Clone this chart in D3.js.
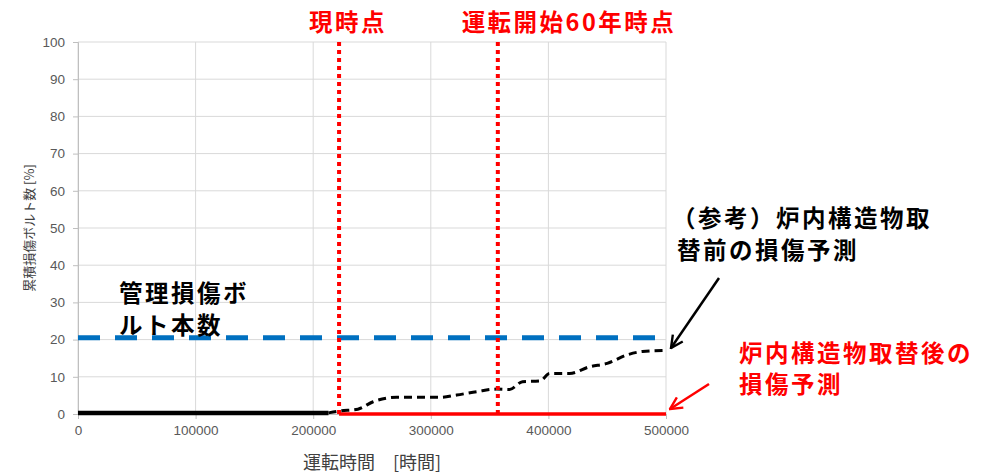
<!DOCTYPE html>
<html><head><meta charset="utf-8">
<script src="https://cdn.jsdelivr.net/npm/d3@7"></script>
<style>body{margin:0;background:#fff;} svg{display:block;}</style>
</head><body>
<svg id="c" width="987" height="475"></svg>
<script>
const xTicks = [0,100000,200000,300000,400000,500000];
const yTicks = [0,10,20,30,40,50,60,70,80,90,100];
// measured (past) damage: solid black
const pastX = [0, 213000];
const pastY = [0.3, 0.3];
// reference prediction without replacement: dashed black
const refX = [213000,222800,238000,251000,271000,308000,322000,339000,356000,367000,378000,393000,401000,418000,435000,450000,467000,480000,500000];
const refY = [0.3,0.8,1.3,3.3,4.5,4.5,5.1,6.0,6.7,6.6,8.7,8.9,10.9,10.9,12.7,13.6,15.9,16.8,17.1];
// prediction after replacement: red solid
const afterX = [222000, 500000];
const afterY = [0, 0];
// management limit
const limitValue = 20.5;
// event times
const nowTime = 222000;
const sixtyTime = 357000;

const svg = d3.select("#c");
const x = d3.scaleLinear().domain([0,500000]).range([78,666]);
const y = d3.scaleLinear().domain([0,100]).range([414,42]);
const jp = "'Noto Sans CJK JP', sans-serif";

// grid
svg.append("g").selectAll("line").data(yTicks).join("line")
  .attr("x1",x(0)).attr("x2",x(500000)).attr("y1",d=>y(d)).attr("y2",d=>y(d))
  .attr("stroke","#d9d9d9").attr("stroke-width",1);
svg.append("g").selectAll("line").data(xTicks).join("line")
  .attr("y1",y(0)).attr("y2",y(100)).attr("x1",d=>x(d)).attr("x2",d=>x(d))
  .attr("stroke","#d9d9d9").attr("stroke-width",1);

// axes
const yAxis = svg.append("g").attr("transform",`translate(${x(0)},0)`)
  .call(d3.axisLeft(y).tickValues(yTicks).tickSize(5).tickPadding(8));
const xAxis = svg.append("g").attr("transform",`translate(0,${y(0)})`)
  .call(d3.axisBottom(x).tickValues(xTicks).tickSize(5).tickPadding(6).tickFormat(d3.format("d")));
[yAxis,xAxis].forEach(a=>{
  a.select(".domain").attr("stroke","#bfbfbf");
  a.selectAll(".tick line").attr("stroke","#bfbfbf");
  a.selectAll(".tick text").attr("fill","#595959").attr("font-size",13.5)
   .attr("font-family","'Liberation Sans', Arial, sans-serif");
});

const line = d3.line().x(d=>x(d[0])).y(d=>y(d[1]));

// blue limit
svg.append("path").datum([[0,limitValue],[500000,limitValue]]).attr("d",line)
  .attr("stroke","#0070c0").attr("stroke-width",5).attr("fill","none")
  .attr("stroke-dasharray","22,15");

// red after line
svg.append("path").datum(d3.zip(afterX,afterY)).attr("d",line)
  .attr("stroke","#ff0000").attr("stroke-width",3.5).attr("fill","none");

// black past
svg.append("path").datum(d3.zip(pastX,pastY)).attr("d",line)
  .attr("stroke","#000").attr("stroke-width",4.5).attr("fill","none");

// black dashed ref
svg.append("path").datum(d3.zip(refX,refY)).attr("d",d3.line().x(d=>x(d[0])).y(d=>y(d[1])).curve(d3.curveMonotoneX))
  .attr("stroke","#000").attr("stroke-width",3).attr("fill","none")
  .attr("stroke-dasharray","8,5");

// vertical dotted red
[nowTime, sixtyTime].forEach(t=>{
  svg.append("line").attr("x1",x(t)).attr("x2",x(t)).attr("y1",y(100)).attr("y2",y(0))
    .attr("stroke","#ff0000").attr("stroke-width",4).attr("stroke-dasharray","4,4");
});

// axis titles
svg.append("text").attr("transform","translate(34,228) rotate(-90)").attr("text-anchor","middle")
  .attr("font-family",jp).attr("font-size",13).attr("fill","#404040").text("累積損傷ボルト数 [%]");
svg.append("text").attr("x",372).attr("y",469).attr("text-anchor","middle")
  .attr("font-family",jp).attr("font-size",18).attr("fill","#404040").text("運転時間　[時間]");

// annotations
function lbl(tx,ty,str,col,anchor){
  svg.append("text").attr("x",tx).attr("y",ty).attr("text-anchor",anchor||"start")
    .attr("font-family",jp).attr("font-weight","bold").attr("font-size",23.5)
    .attr("letter-spacing",2.5).attr("fill",col).text(str);
}
lbl(348,31,"現時点","#ff0000","middle");
lbl(569,31,"運転開始60年時点","#ff0000","middle");
lbl(119,302,"管理損傷ボ","#000");
lbl(119,334,"ルト本数","#000");
lbl(672,227,"（参考）炉内構造物取","#000");
lbl(677,259,"替前の損傷予測","#000");
lbl(739,362,"炉内構造物取替後の","#ff0000");
lbl(739,393,"損傷予測","#ff0000");

// arrows
const defs = svg.append("defs");
[["ab","#000"],["ar","#ff0000"]].forEach(([id,c])=>{
  defs.append("marker").attr("id",id).attr("viewBox","0 0 10 10").attr("refX",9).attr("refY",5)
    .attr("markerWidth",6).attr("markerHeight",6).attr("orient","auto")
    .append("path").attr("d","M1,1 L9,5 L1,9").attr("fill","none").attr("stroke",c).attr("stroke-width",1.6);
});
svg.append("line").attr("x1",719).attr("y1",278).attr("x2",671).attr("y2",348)
  .attr("stroke","#000").attr("stroke-width",2.5).attr("marker-end","url(#ab)");
svg.append("line").attr("x1",709).attr("y1",384).attr("x2",670).attr("y2",409)
  .attr("stroke","#ff0000").attr("stroke-width",2.5).attr("marker-end","url(#ar)");
</script>
</body></html>
